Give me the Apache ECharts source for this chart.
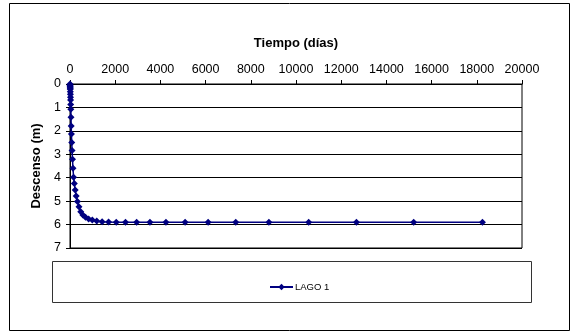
<!DOCTYPE html>
<html>
<head>
<meta charset="utf-8">
<script src="https://cdn.jsdelivr.net/npm/echarts@6/dist/echarts.min.js"></script>
<style>
html,body{margin:0;padding:0;background:#fff;}
#c{width:570px;height:332px;}
</style>
</head>
<body>
<div id="c"></div>
<script>
// Data
const seriesName = 'LAGO 1';
const xTitle = 'Tiempo (días)';
const yTitle = 'Descenso (m)';
const tiempo = [0, 2, 4, 6, 8, 10, 12, 15, 18, 21, 26, 31, 37, 44, 53, 64, 77, 92, 110, 133, 159, 191, 229, 275, 330, 397, 476, 571, 685, 823, 987, 1185, 1421, 1706, 2047, 2456, 2948, 3537, 4244, 5093, 6112, 7334, 8801, 10561, 12674, 15208, 18250];
const descenso = [0.0, 0.04, 0.08, 0.11, 0.14, 0.18, 0.22, 0.33, 0.44, 0.57, 0.68, 0.87, 1.08, 1.42, 1.79, 2.13, 2.50, 2.84, 3.21, 3.60, 3.98, 4.25, 4.52, 4.78, 5.02, 5.24, 5.45, 5.59, 5.69, 5.76, 5.80, 5.85, 5.88, 5.89, 5.90, 5.90, 5.90, 5.90, 5.90, 5.90, 5.90, 5.90, 5.90, 5.90, 5.90, 5.90, 5.90];

const points = tiempo.map((t, i) => [t, descenso[i]]);
const FONT = '"Liberation Sans", Arial, sans-serif';

const chart = echarts.init(document.getElementById('c'), null, {renderer: 'canvas'});
chart.setOption({
  animation: false,
  backgroundColor: '#fff',
  grid: {left: 70, right: 48, top: 84, bottom: 84, show: true, borderColor: '#000', borderWidth: 1, backgroundColor: '#fff'},
  xAxis: {
    type: 'value', position: 'top', min: 0, max: 20000, interval: 2000,
    name: xTitle, nameLocation: 'middle', nameGap: 34,
    nameTextStyle: {fontFamily: FONT, fontSize: 13, fontWeight: 'bold', color: '#000'},
    axisLine: {show: true, lineStyle: {color: '#000', width: 1}},
    axisTick: {show: true, inside: false, length: 4, lineStyle: {color: '#000'}},
    axisLabel: {fontFamily: FONT, fontSize: 12.5, color: '#000', margin: 8, formatter: v => String(v)},
    splitLine: {show: false}
  },
  yAxis: {
    type: 'value', inverse: true, min: 0, max: 7, interval: 1,
    name: yTitle, nameLocation: 'middle', nameGap: 26, nameRotate: 90,
    nameTextStyle: {fontFamily: FONT, fontSize: 13, fontWeight: 'bold', color: '#000'},
    axisLine: {show: true, lineStyle: {color: '#000', width: 1}},
    axisTick: {show: true, length: 4, lineStyle: {color: '#000'}},
    axisLabel: {fontFamily: FONT, fontSize: 12.5, color: '#000', margin: 9, formatter: v => String(v)},
    splitLine: {show: true, lineStyle: {color: '#000', width: 1}}
  },
  legend: {
    data: [seriesName], left: 264, top: 277, itemWidth: 23, itemHeight: 8, itemGap: 4,
    textStyle: {fontFamily: FONT, fontSize: 9.5, color: '#000', padding: [0, 0, 0, -3]}
  },
  graphic: [
    {type: 'rect', shape: {x: 9.5, y: 3.5, width: 560, height: 327}, style: {fill: null, stroke: '#000', lineWidth: 1}, silent: true, z: 0},
    {type: 'rect', shape: {x: 52.5, y: 261.5, width: 479, height: 41}, style: {fill: null, stroke: '#333', lineWidth: 1}, silent: true, z: 0}
  ],
  series: [{
    name: seriesName, type: 'line', data: points,
    symbol: 'diamond', symbolSize: 7, showAllSymbol: true,
    lineStyle: {color: '#000080', width: 1.5},
    itemStyle: {color: '#000080'},
    clip: false
  }]
});
</script>
</body>
</html>
